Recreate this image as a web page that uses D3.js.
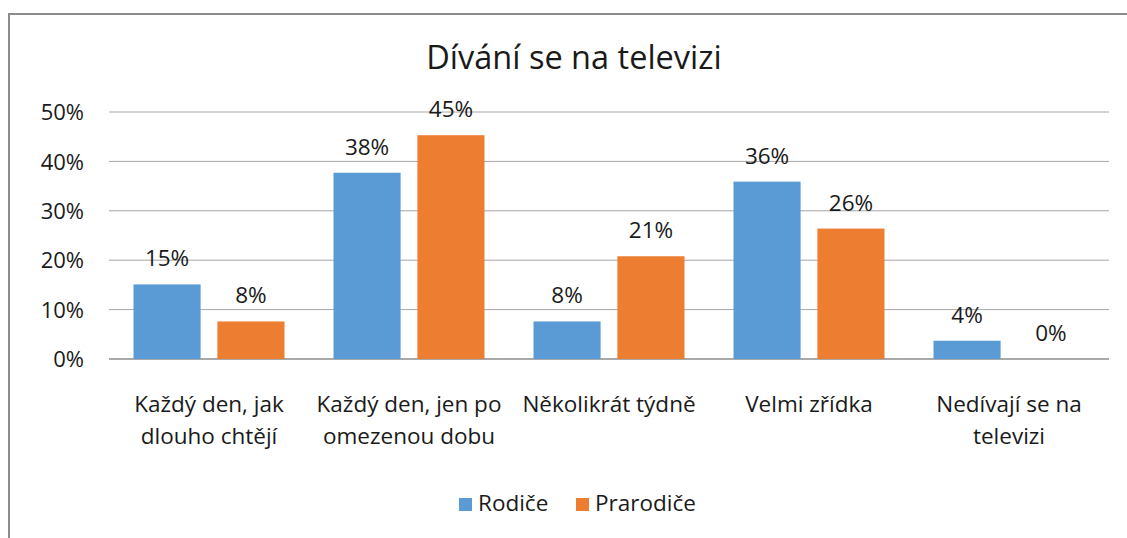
<!DOCTYPE html>
<html>
<head>
<meta charset="utf-8">
<script src="https://cdn.jsdelivr.net/npm/d3@7"></script>
<style>
  body { margin: 0; background: #fff; }
  text { font-family: "Open Sans", "Noto Sans", sans-serif; fill: #1a1a1a; }
</style>
</head>
<body>
<svg id="chart"></svg>
<script>
var categories = [
    ["Každý den, jak", "dlouho chtějí"],
    ["Každý den, jen po", "omezenou dobu"],
    ["Několikrát týdně"],
    ["Velmi zřídka"],
    ["Nedívají se na", "televizi"]
];
var seriesNames = ["Rodiče", "Prarodiče"];
var rodice = [15.1, 37.7, 7.6, 35.9, 3.7];
var prarodice = [7.6, 45.3, 20.8, 26.4, 0];
var yTicks = [0, 10, 20, 30, 40, 50];
var colors = ["#5b9bd5", "#ed7d31"];

var svgWidth = 1127, svgHeight = 538;
var fontSize = "22.5px";
var svg = d3.select("#chart")
    .attr("width", svgWidth)
    .attr("height", svgHeight);

// chart frame (only top and left edges show in the picture)
svg.append("rect")
    .attr("x", 9).attr("y", 14)
    .attr("width", 1140).attr("height", 560)
    .attr("fill", "none")
    .attr("stroke", "#8c8c8c")
    .attr("stroke-width", 2);

svg.append("text")
    .attr("x", 574).attr("y", 69)
    .attr("text-anchor", "middle")
    .style("font-size", "32.5px")
    .text("Dívání se na televizi");

var x = d3.scaleBand()
    .domain(d3.range(categories.length))
    .range([109, 1109]);

var inner = d3.scaleBand()
    .domain(seriesNames)
    .range([24.5, 200 - 24.5])
    .paddingInner(0.2);

var y = d3.scaleLinear()
    .domain([0, 50])
    .range([359, 112]);

// grid
svg.append("g")
    .selectAll("line")
    .data(yTicks)
    .enter()
    .append("line")
    .attr("x1", 109).attr("x2", 1109)
    .attr("y1", function(d) { return y(d); })
    .attr("y2", function(d) { return y(d); })
    .attr("stroke", function(d) { return d === 0 ? "#8c8c8c" : "#a6a6a6"; })
    .attr("stroke-width", function(d) { return d === 0 ? 1.5 : 1; });

var yAxis = svg.append("g")
    .attr("transform", "translate(84,0)")
    .call(d3.axisLeft(y).tickValues(yTicks).tickSize(0).tickPadding(0)
        .tickFormat(function(d) { return d + "%"; }));
yAxis.select(".domain").remove();
yAxis.selectAll("text")
    .attr("dy", "0.35em")
    .style("font-size", "22px")
    .style("font-family", "'Open Sans', 'Noto Sans', sans-serif")
    .attr("fill", "#1a1a1a");

var tableData = [];
for (let i = 0; i < categories.length; i++) {
    tableData.push({ cat: i, series: seriesNames[0], value: rodice[i], color: colors[0] });
    tableData.push({ cat: i, series: seriesNames[1], value: prarodice[i], color: colors[1] });
}

var bars = svg.append("g")
    .selectAll("g")
    .data(tableData)
    .enter()
    .append("g");

bars.append("rect")
    .attr("x", function(d) { return x(d.cat) + inner(d.series); })
    .attr("y", function(d) { return y(d.value); })
    .attr("width", inner.bandwidth())
    .attr("height", function(d) { return y(0) - y(d.value); })
    .attr("fill", function(d) { return d.color; });

bars.append("text")
    .attr("x", function(d) { return x(d.cat) + inner(d.series) + inner.bandwidth() / 2; })
    .attr("y", function(d) { return y(d.value) - 18; })
    .attr("text-anchor", "middle")
    .style("font-size", fontSize)
    .text(function(d) { return Math.round(d.value) + "%"; });

// category labels
var catLabels = svg.append("g")
    .selectAll("text")
    .data(categories)
    .enter()
    .append("text")
    .attr("text-anchor", "middle")
    .style("font-size", fontSize);

catLabels.selectAll("tspan")
    .data(function(d, i) { return d.map(function(line) { return { line: line, i: i }; }); })
    .enter()
    .append("tspan")
    .attr("x", function(d) { return x(d.i) + x.bandwidth() / 2; })
    .attr("y", function(d, j) { return 412 + j * 32; })
    .text(function(d) { return d.line; });

// legend
var legendX = [459, 576];
var legend = svg.append("g")
    .selectAll("g")
    .data(seriesNames)
    .enter()
    .append("g")
    .attr("transform", function(d, i) { return "translate(" + legendX[i] + ",498)"; });

legend.append("rect")
    .attr("width", 13).attr("height", 13)
    .attr("fill", function(d, i) { return colors[i]; });

legend.append("text")
    .attr("x", 19).attr("y", 13)
    .style("font-size", fontSize)
    .text(function(d) { return d; });
</script>
</body>
</html>
